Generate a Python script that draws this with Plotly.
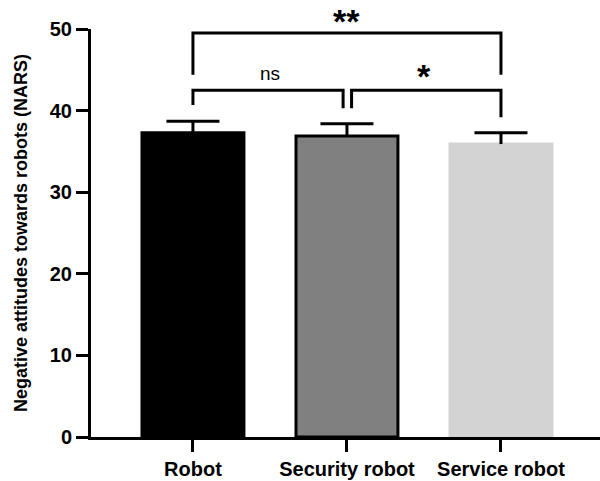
import plotly.graph_objects as go

# Group means and upper error (SEM) for the NARS score
groups = ["Robot", "Security robot", "Service robot"]
means = [37.3, 36.9, 35.9]
errors = [1.4, 1.5, 1.4]
fill_colors = ["#000000", "#808080", "#d3d3d3"]
edge_colors = ["#000000", "#000000", "#d3d3d3"]
y_ticks = [0, 10, 20, 30, 40, 50]

# Significance brackets: (x_left, x_right, y_top, left_leg_bottom, right_leg_bottom)
brackets = [
    (0.0, 2.0, 49.5, 44.4, 44.4),
    (0.0, 0.975, 42.5, 40.7, 40.3),
    (1.03, 2.0, 42.5, 40.3, 39.2),
]
# Significance labels: (text, x, y, bold, size, yshift)
sig_labels = [
    ("**", 1.0, 49.5, True, 34, 12),
    ("ns", 0.5, 44.5, False, 19, 0),
    ("*", 1.5, 44.3, True, 34, 0),
]

FONT = "Arial, Liberation Sans, sans-serif"
CAP_HALF = 0.172
x_pos = list(range(len(groups)))

fig = go.Figure()
fig.add_trace(go.Bar(
    x=x_pos,
    y=means,
    width=0.662,
    marker=dict(color=fill_colors, line=dict(color=edge_colors, width=3)),
    showlegend=False,
))

# Upper-only error bars: stem from the bar top plus a cap
ex, ey = [], []
for x, m, e in zip(x_pos, means, errors):
    ex += [x, x, None, x - CAP_HALF, x + CAP_HALF, None]
    ey += [m, m + e, None, m + e, m + e, None]
fig.add_trace(go.Scatter(
    x=ex, y=ey, mode="lines",
    line=dict(color="black", width=3),
    hoverinfo="skip", showlegend=False,
))

for x0, x1, ytop, yl, yr in brackets:
    fig.add_trace(go.Scatter(
        x=[x0, x0, x1, x1],
        y=[yl, ytop, ytop, yr],
        mode="lines",
        line=dict(color="black", width=3),
        hoverinfo="skip",
        showlegend=False,
    ))

for label, lx, ly, bold, size, ys in sig_labels:
    fig.add_annotation(
        x=lx, y=ly, xref="x", yref="y", yshift=ys,
        text=f"<b>{label}</b>" if bold else label,
        showarrow=False,
        font=dict(family=FONT, size=size, color="black"),
    )

fig.update_layout(
    width=600,
    height=481,
    margin=dict(l=91, r=0, t=29, b=44),
    plot_bgcolor="white",
    paper_bgcolor="white",
    font=dict(family=FONT, color="black"),
    xaxis=dict(
        range=[-0.662, 2.643],
        tickvals=x_pos,
        ticktext=[f"<b>{g}</b>" for g in groups],
        tickfont=dict(size=20, family=FONT, color="black"),
        showline=True, linewidth=3, linecolor="black",
        ticks="outside", ticklen=12, tickwidth=3, tickcolor="black",
        showgrid=False, zeroline=False,
    ),
    yaxis=dict(
        range=[0, 50],
        tickvals=y_ticks,
        ticktext=[f"<b>{v}</b>" for v in y_ticks],
        tickfont=dict(size=20, family=FONT, color="black"),
        showline=True, linewidth=3, linecolor="black",
        ticks="outside", ticklen=12, tickwidth=3, tickcolor="black",
        showgrid=False, zeroline=False,
        title=dict(
            text="<b>Negative attitudes towards robots (NARS)</b>",
            font=dict(size=18, family=FONT, color="black"),
            standoff=18,
        ),
    ),
)

fig.write_html("out.html")
